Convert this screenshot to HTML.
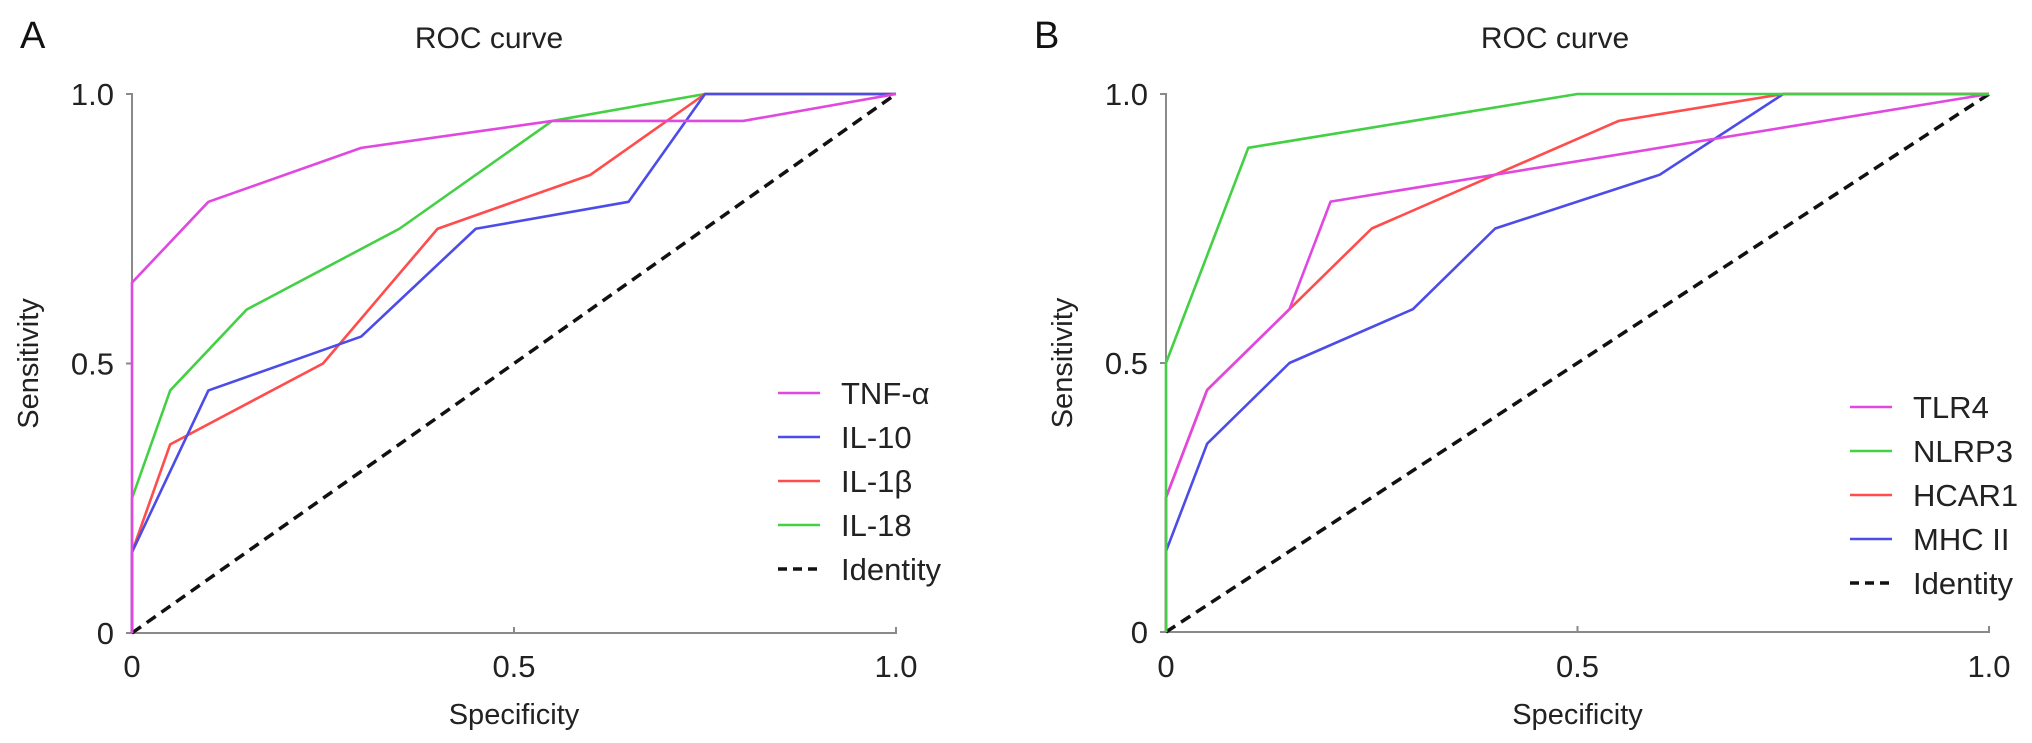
<!DOCTYPE html>
<html><head><meta charset="utf-8"><style>
html,body{margin:0;padding:0;background:#fff;}
svg{display:block;font-family:"Liberation Sans",Arial,sans-serif;}
</style></head><body>
<svg id="fig" width="2032" height="743" viewBox="0 0 2032 743" xmlns="http://www.w3.org/2000/svg"></svg>
<script>
const ticks = [0, 0.5, 1.0];
const tickLabels = ["0", "0.5", "1.0"];
const namesA = ["TNF-α", "IL-10", "IL-1β", "IL-18"];
const tnfX = [0, 0, 0.1, 0.3, 0.55, 0.8, 1];
const tnfY = [0, 0.65, 0.8, 0.9, 0.95, 0.95, 1];
const il10X = [0, 0, 0.1, 0.3, 0.45, 0.65, 0.75, 1];
const il10Y = [0, 0.15, 0.45, 0.55, 0.75, 0.8, 1, 1];
const il1bX = [0, 0, 0.05, 0.25, 0.4, 0.6, 0.75, 1];
const il1bY = [0, 0.15, 0.35, 0.5, 0.75, 0.85, 1, 1];
const il18X = [0, 0, 0.05, 0.15, 0.35, 0.55, 0.75, 1];
const il18Y = [0, 0.25, 0.45, 0.6, 0.75, 0.95, 1, 1];
const namesB = ["TLR4", "NLRP3", "HCAR1", "MHC II"];
const tlr4X = [0, 0, 0.05, 0.15, 0.2, 1];
const tlr4Y = [0, 0.25, 0.45, 0.6, 0.8, 1];
const nlrp3X = [0, 0, 0.1, 0.5, 1];
const nlrp3Y = [0, 0.5, 0.9, 1, 1];
const hcar1X = [0, 0, 0.05, 0.15, 0.25, 0.55, 0.75, 1];
const hcar1Y = [0, 0.25, 0.45, 0.6, 0.75, 0.95, 1, 1];
const mhcX = [0, 0, 0.05, 0.15, 0.3, 0.4, 0.6, 0.75, 1];
const mhcY = [0, 0.15, 0.35, 0.5, 0.6, 0.75, 0.85, 1, 1];
const identX = [0, 1];
const identY = [0, 1];

const NS = "http://www.w3.org/2000/svg";
const svg = document.getElementById("fig");
function mk(tag, attrs, parent) {
  const e = document.createElementNS(NS, tag);
  for (const k in attrs) e.setAttribute(k, attrs[k]);
  (parent || svg).appendChild(e);
  return e;
}
const COLORS = ["#e048e0", "#4c4ce8", "#ff4c4c", "#44d044"];

function panel(p) {
  const g = mk("g", {});
  
  
  const sx = v => p.x0 + v * (p.x1 - p.x0);
  const sy = v => p.y0 - v * (p.y0 - p.y1);
  let t = mk("text", {x: p.letterX, y: 48, "font-size": 38, fill: "#111"}, g);
  t.textContent = p.letter;
  
  
  t = mk("text", {x: p.titleX, y: 48, "font-size": 30, "text-anchor": "middle", fill: "#222"}, g);
  t.textContent = "ROC curve";
  
  
  let a = mk("path", {d: `M${p.x0 - 6} ${p.y1} H${p.x0} V${p.y0} H${p.x1} V${p.y0 - 6}`, fill: "none", stroke: "#8a8a8a", "stroke-width": 2}, g);
  
  
  ticks.forEach((v, i) => {
    let tk = mk("line", {x1: p.x0 - 6, x2: p.x0, y1: sy(v), y2: sy(v), stroke: "#8a8a8a", "stroke-width": 2}, g);
    
    
    tk = mk("line", {x1: sx(v), x2: sx(v), y1: p.y0, y2: p.y0 - 6, stroke: "#8a8a8a", "stroke-width": 2}, g);
    
    
    let l = mk("text", {x: p.x0 - 18, y: sy(v) + 11, "font-size": 31, "text-anchor": "end", fill: "#222"}, g);
    l.textContent = tickLabels[i];
    
    
    l = mk("text", {x: sx(v), y: 677, "font-size": 31, "text-anchor": "middle", fill: "#222"}, g);
    l.textContent = tickLabels[i];
    
    
  });
  t = mk("text", {x: (p.x0 + p.x1) / 2, y: 724, "font-size": 29, "text-anchor": "middle", fill: "#222"}, g);
  t.textContent = "Specificity";
  
  
  const cy = (p.y0 + p.y1) / 2;
  t = mk("text", {x: p.ylabX, y: cy, "font-size": 29, "text-anchor": "middle", fill: "#222", transform: `rotate(-90 ${p.ylabX} ${cy})`}, g);
  t.textContent = "Sensitivity";
  
  
  let idl = mk("polyline", {points: identX.map((x, i) => sx(x) + "," + sy(identY[i])).join(" "), fill: "none", stroke: "#111", "stroke-width": 3.5, "stroke-dasharray": "11 7"}, g);
  
  
  p.order.forEach(i => {
    const s = p.series[i];
    const pl = mk("polyline", {points: s.x.map((x, j) => sx(x) + "," + sy(s.y[j])).join(" "), fill: "none", stroke: COLORS[s.c], "stroke-width": 2.6, "stroke-linejoin": "round"}, g);
    
    
  });
  const labels = p.names.concat(["Identity"]);
  labels.forEach((nm, i) => {
    const y = p.legY + i * 44;
    const le = mk("g", {}, g);
    
    
    if (i < p.names.length) {
      mk("line", {x1: p.legX, x2: p.legX + 42, y1: y, y2: y, stroke: COLORS[p.series[i].c], "stroke-width": 2.6}, le);
    } else {
      mk("line", {x1: p.legX, x2: p.legX + 42, y1: y, y2: y, stroke: "#111", "stroke-width": 3.5, "stroke-dasharray": "9 6"}, le);
    }
    const lt = mk("text", {x: p.legX + 63, y: y + 11, "font-size": 31, fill: "#222"}, le);
    lt.textContent = nm;
  });
}

panel({id: "a", letter: "A", letterX: 20, titleX: 489, x0: 132, x1: 896, y0: 633, y1: 94, ylabX: 38,
  names: namesA, legX: 778, legY: 393,
  series: [{x: tnfX, y: tnfY, c: 0}, {x: il10X, y: il10Y, c: 1}, {x: il1bX, y: il1bY, c: 2}, {x: il18X, y: il18Y, c: 3}],
  order: [3, 2, 1, 0]});
panel({id: "b", letter: "B", letterX: 1034, titleX: 1555, x0: 1166, x1: 1989, y0: 632, y1: 94, ylabX: 1072,
  names: namesB, legX: 1850, legY: 407,
  series: [{x: tlr4X, y: tlr4Y, c: 0}, {x: nlrp3X, y: nlrp3Y, c: 3}, {x: hcar1X, y: hcar1Y, c: 2}, {x: mhcX, y: mhcY, c: 1}],
  order: [3, 2, 0, 1]});
</script>
</body></html>
